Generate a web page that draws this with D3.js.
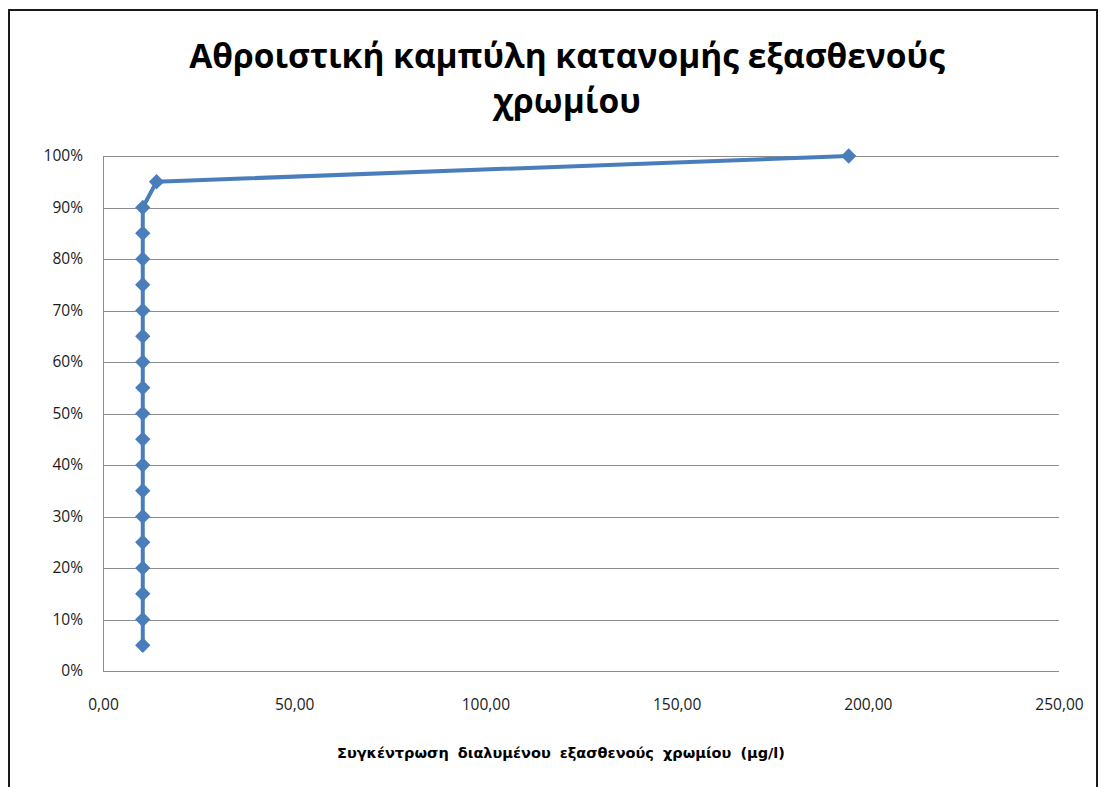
<!DOCTYPE html>
<html>
<head>
<meta charset="utf-8">
<script src="https://cdn.jsdelivr.net/npm/d3@7"></script>
<style>
  html, body { margin: 0; padding: 0; background: #fff; }
  svg { display: block; }
</style>
</head>
<body>
<svg id="chart" width="1104" height="787"></svg>
<script>
// Cumulative distribution of hexavalent chromium concentrations
const chartTitle = ["Αθροιστική καμπύλη κατανομής εξασθενούς", "χρωμίου"];
const xAxisTitle = "Συγκέντρωση διαλυμένου εξασθενούς χρωμίου (μg/l)";

// concentration (μg/l) for each cumulative fraction
const concentration = [10.4, 10.4, 10.4, 10.4, 10.4, 10.4, 10.4, 10.4, 10.4, 10.4,
                       10.4, 10.4, 10.4, 10.4, 10.4, 10.4, 10.4, 10.4, 14.0, 195.0];
const cumulative = [0.05, 0.10, 0.15, 0.20, 0.25, 0.30, 0.35, 0.40, 0.45, 0.50,
                    0.55, 0.60, 0.65, 0.70, 0.75, 0.80, 0.85, 0.90, 0.95, 1.00];

const xTicks = [0, 50, 100, 150, 200, 250];
const yTicks = [0, 0.1, 0.2, 0.3, 0.4, 0.5, 0.6, 0.7, 0.8, 0.9, 1.0];

const points = concentration.map((c, i) => ({ x: c, y: cumulative[i] }));

const svg = d3.select("#chart");
const plot = { left: 103, right: 1059, top: 156, bottom: 671 };
const lineColor = "#4A7EBB";
const gridColor = "#8C8C8C";

// outer chart frame (left, top and right edges)
svg.append("path")
  .attr("d", "M9,787 V10 H1097 V787")
  .attr("fill", "none")
  .attr("stroke", "#1a1a1a")
  .attr("stroke-width", 2);

const x = d3.scaleLinear().domain([0, 250]).range([plot.left, plot.right]);
const y = d3.scaleLinear().domain([0, 1]).range([plot.bottom, plot.top]);

// horizontal gridlines
svg.append("g")
  .selectAll("line")
  .data(yTicks)
  .join("line")
  .attr("x1", plot.left).attr("x2", plot.right)
  .attr("y1", d => Math.round(y(d)) + 0.5).attr("y2", d => Math.round(y(d)) + 0.5)
  .attr("stroke", gridColor).attr("stroke-width", 1);

// vertical axis line
svg.append("line")
  .attr("x1", plot.left + 0.5).attr("x2", plot.left + 0.5)
  .attr("y1", plot.top).attr("y2", plot.bottom + 1)
  .attr("stroke", gridColor).attr("stroke-width", 1);

const labelFont = "'Open Sans', 'Noto Sans', sans-serif";

// y axis tick labels
const yAxis = d3.axisLeft(y).tickValues(yTicks).tickFormat(d3.format(".0%"))
  .tickSize(0).tickPadding(20);
const yG = svg.append("g").attr("transform", `translate(${plot.left},0)`).call(yAxis);
yG.select(".domain").remove();
yG.selectAll("text")
  .attr("font-family", labelFont).attr("font-size", 15.5).attr("fill", "#1a1a1a");

// x axis tick labels, decimal comma
const fmtX = d => d3.format(".2f")(d).replace(".", ",");
const xAxis = d3.axisBottom(x).tickValues(xTicks).tickFormat(fmtX)
  .tickSize(0).tickPadding(28);
const xG = svg.append("g").attr("transform", `translate(0,${plot.bottom})`).call(xAxis);
xG.select(".domain").remove();
xG.selectAll("text")
  .attr("font-family", labelFont).attr("font-size", 15.5).attr("fill", "#1a1a1a");

// data line
const line = d3.line().x(d => x(d.x)).y(d => y(d.y));
svg.append("path")
  .datum(points)
  .attr("d", line)
  .attr("fill", "none")
  .attr("stroke", lineColor)
  .attr("stroke-width", 4)
  .attr("stroke-linejoin", "round");

// diamond markers
const diamond = d3.symbol().type(d3.symbolDiamond2).size(150);
svg.append("g")
  .selectAll("path")
  .data(points)
  .join("path")
  .attr("transform", d => `translate(${x(d.x)},${y(d.y)})`)
  .attr("d", diamond)
  .attr("fill", lineColor);

// title, two centred lines
const titleG = svg.append("g");
titleG.selectAll("text")
  .data(chartTitle)
  .join("text")
  .attr("x", 567)
  .attr("y", (d, i) => 68 + i * 45)
  .attr("text-anchor", "middle")
  .attr("font-family", "'Open Sans', 'Noto Sans', sans-serif")
  .attr("font-weight", "bold")
  .attr("font-size", 33.5)
  .attr("fill", "#000")
  .text(d => d);

// x axis title
svg.append("text")
  .attr("x", 561)
  .attr("y", 758)
  .attr("text-anchor", "middle")
  .attr("font-family", "'DejaVu Sans', sans-serif")
  .attr("font-weight", "bold")
  .attr("font-size", 14.5)
  .attr("word-spacing", 4)
  .attr("fill", "#000")
  .text(xAxisTitle);
</script>
</body>
</html>
